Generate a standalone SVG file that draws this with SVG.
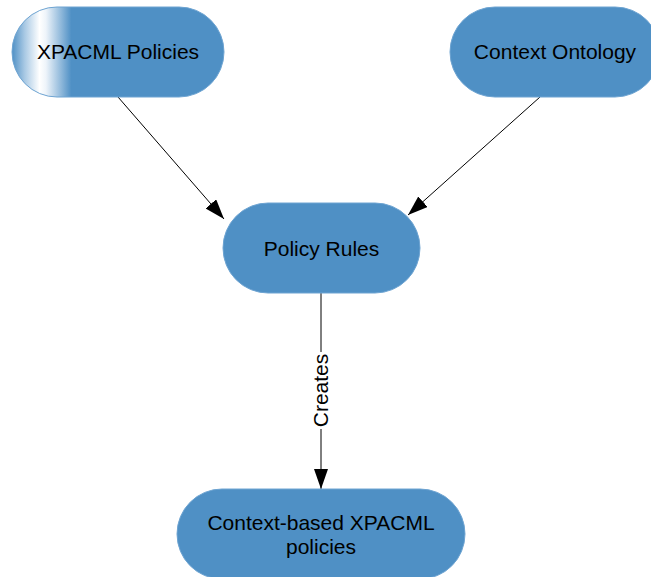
<svg xmlns="http://www.w3.org/2000/svg" width="651" height="577" viewBox="0 0 651 577">
<style>
.node{fill:#4f90c5;stroke:#6ea4d2;stroke-width:1}
.lbl{font-family:"Liberation Sans",Arial,sans-serif;font-size:21px;fill:#000;text-anchor:middle}
.edge{stroke:#000;stroke-width:1;fill:none}
</style>
<defs>
<linearGradient id="g1" gradientUnits="userSpaceOnUse" x1="12" y1="0" x2="224" y2="0">
<stop offset="0" stop-color="#4f90c5"/>
<stop offset="0.06" stop-color="#a9c9e4"/>
<stop offset="0.13" stop-color="#ffffff"/>
<stop offset="0.16" stop-color="#eef4fa"/>
<stop offset="0.28" stop-color="#4f90c5"/>
<stop offset="1" stop-color="#4f90c5"/>
</linearGradient>
<marker id="ah" markerUnits="userSpaceOnUse" markerWidth="21" markerHeight="15" refX="20" refY="7" orient="auto">
<path d="M0,0 L20,7 L0,14 Z" fill="#000"/>
</marker>
</defs>
<g id="edges">
<line class="edge" x1="118" y1="97" x2="224" y2="219" marker-end="url(#ah)"/>
<line class="edge" x1="540" y1="97" x2="408" y2="215" marker-end="url(#ah)"/>
<line class="edge" x1="321" y1="293" x2="321" y2="489" marker-end="url(#ah)"/>
<rect x="311" y="352" width="20" height="77" fill="#fff"/>
<text class="lbl" transform="translate(328,390.5) rotate(-90)">Creates</text>
</g>
<g id="n1">
<rect class="node" x="12" y="7" width="212" height="90" rx="45" ry="45" style="fill:url(#g1)"/>
<text class="lbl" x="118" y="59">XPACML Policies</text>
</g>
<g id="n2">
<rect class="node" x="450" y="7" width="210" height="90" rx="45" ry="45"/>
<text class="lbl" x="555" y="59">Context Ontology</text>
</g>
<g id="n3">
<rect class="node" x="223" y="203" width="197" height="90" rx="45" ry="45"/>
<text class="lbl" x="321.5" y="255.5">Policy Rules</text>
</g>
<g id="n4">
<rect class="node" x="177" y="489" width="288" height="90" rx="45" ry="45"/>
<text class="lbl" x="321" y="530">Context-based XPACML</text>
<text class="lbl" x="321" y="554">policies</text>
</g>
</svg>
